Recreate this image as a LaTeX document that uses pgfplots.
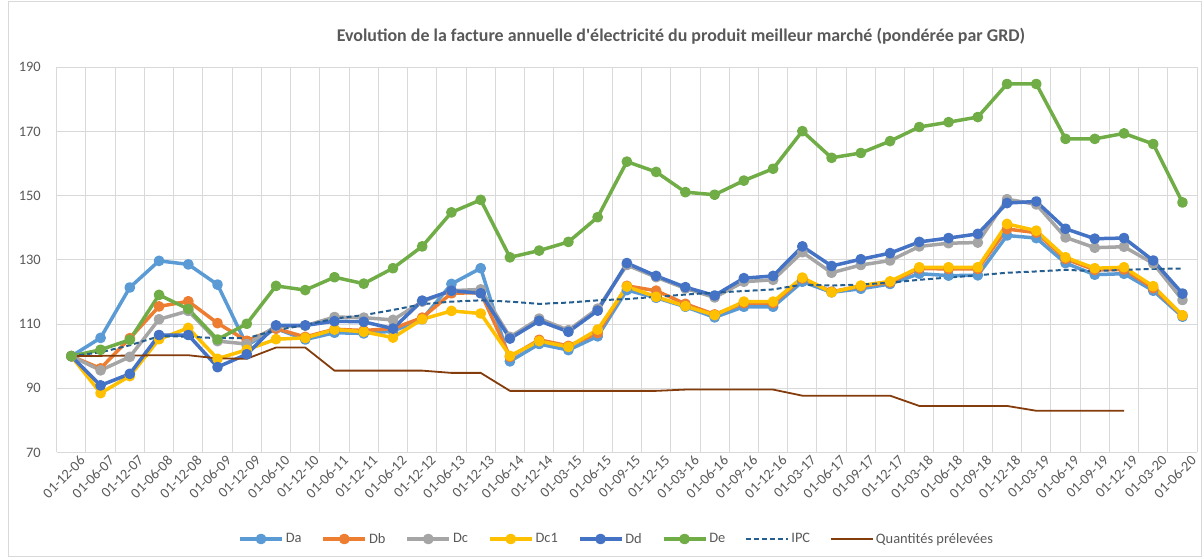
\documentclass[border=0pt]{standalone}
\usepackage{fontspec}
\setmainfont{Carlito}
\usepackage{pgfplots}
\usepackage{pgfplotstable}
\pgfplotsset{compat=1.18}
\definecolor{cDa}{HTML}{5B9BD5}
\definecolor{cDb}{HTML}{ED7D31}
\definecolor{cDc}{HTML}{A5A5A5}
\definecolor{cDcone}{HTML}{FFC000}
\definecolor{cDd}{HTML}{4472C4}
\definecolor{cDe}{HTML}{70AD47}
\definecolor{cIPC}{HTML}{255E91}
\definecolor{cQ}{HTML}{843C0C}
\definecolor{gridc}{HTML}{D9D9D9}
\definecolor{labc}{HTML}{595959}

\pgfplotstableread{
x Da Db Dc Dc1 Dd De IPC Q
0 100 100 100 100 100 100 100 100
1 105.7 96.2 95.6 88.5 90.9 102.0 101.2 100.1
2 121.4 105.6 99.8 93.8 94.5 105.1 103.4 100.2
3 129.7 115.5 111.5 105.3 106.6 119.1 106.2 100.3
4 128.6 117.1 114.1 108.8 106.6 114.7 106.1 100.3
5 122.3 110.3 104.7 99.2 96.6 105.2 105.6 99.3
6 103.4 104.8 103.8 102.0 100.6 110.1 105.6 99.2
7 108.6 108.6 109.3 105.3 109.6 121.9 108.1 102.7
8 105.2 106.0 109.5 105.7 109.6 120.6 109.7 102.7
9 107.3 108.4 112.2 108.3 110.9 124.6 111.7 95.5
10 107.1 108.0 112.0 107.6 110.7 122.6 112.8 95.5
11 107.8 108.6 111.3 105.8 108.6 127.4 114.4 95.5
12 111.5 112.0 117.0 111.5 117.3 134.2 116.2 95.5
13 122.5 119.6 120.4 114.1 120.4 144.8 117.0 94.8
14 127.4 119.8 120.8 113.3 119.6 148.7 117.4 94.8
15 98.4 99.8 106.0 100.1 105.5 130.8 117.0 89.2
16 103.8 105.1 111.7 104.7 111.0 132.9 116.3 89.2
17 101.9 103.2 108.1 102.9 107.6 135.6 116.7 89.2
18 106.2 107.2 114.8 108.3 114.2 143.3 117.4 89.2
19 120.6 121.9 128.4 121.7 129.0 160.6 117.8 89.2
20 118.2 120.4 124.6 118.5 125.0 157.4 118.5 89.2
21 115.4 116.3 121.1 115.6 121.5 151.1 119.2 89.6
22 112.1 113.0 118.3 112.8 118.9 150.3 119.8 89.6
23 115.4 116.5 123.2 117.0 124.3 154.7 120.3 89.6
24 115.4 116.5 123.8 117.0 125.0 158.4 120.8 89.6
25 123.2 124.2 132.4 124.5 134.2 170.1 122.3 87.7
26 119.9 120.1 126.0 119.9 128.1 161.8 122.0 87.7
27 121.0 121.8 128.4 122.0 130.2 163.3 122.3 87.7
28 122.5 123.0 129.8 123.3 132.1 167.0 122.9 87.7
29 125.7 127.3 134.2 127.7 135.6 171.4 123.8 84.5
30 125.1 127.2 135.2 127.7 136.8 172.9 124.5 84.5
31 125.2 127.2 135.4 127.7 138.1 174.5 125.2 84.5
32 137.6 139.6 148.9 141.2 147.7 184.8 126.0 84.5
33 136.8 138.5 147.3 139.1 148.2 184.8 126.4 83.0
34 129.0 130.3 137.0 130.8 139.7 167.7 126.9 83.0
35 125.4 126.9 133.8 127.4 136.6 167.7 126.5 83.0
36 125.7 127.0 134.1 127.7 136.8 169.4 126.9 83.0
37 120.4 121.2 128.9 121.8 129.8 166.1 127.2 nan
38 112.3 112.7 117.5 112.7 119.5 147.9 127.3 nan
}\data

\begin{document}
\begin{tikzpicture}[x=1bp,y=1bp]
\useasboundingbox (0,0) rectangle (1203,558);
\draw[gridc, line width=1bp] (8.5,1.5) rectangle (1201.5,556.5);
\node[font=\fontsize{18}{21}\selectfont\bfseries, text=labc, anchor=base] at (681,516)
  {Evolution de la facture annuelle d\textquotesingle électricité du produit meilleur marché (pondérée par GRD)};
\begin{axis}[
  at={(56.7bp,105.5bp)}, anchor=south west, scale only axis,
  width=1140.4bp, height=385.2bp,
  xmin=-0.5, xmax=38.5, ymin=70, ymax=190,
  ytick={70,90,...,190},
  xtick={0,...,38},
  xticklabels={01-12-06,01-06-07,01-12-07,01-06-08,01-12-08,01-06-09,01-12-09,01-06-10,01-12-10,01-06-11,01-12-11,01-06-12,01-12-12,01-06-13,01-12-13,01-06-14,01-12-14,01-03-15,01-06-15,01-09-15,01-12-15,01-03-16,01-06-16,01-09-16,01-12-16,01-03-17,01-06-17,01-09-17,01-12-17,01-03-18,01-06-18,01-09-18,01-12-18,01-03-19,01-06-19,01-09-19,01-12-19,01-03-20,01-06-20},
  minor xtick={-0.5,0.5,...,38.5},
  xminorgrids, ymajorgrids,
  major grid style={draw=gridc, line width=1bp},
  minor grid style={draw=gridc, line width=1bp},
  axis line style={draw=none},
  major tick length=0pt, minor tick length=0pt,
  tick label style={font=\fontsize{14.5}{17}\selectfont, text=labc},
  yticklabel style={anchor=east, inner sep=0pt, xshift=-15.7bp},
  xticklabel style={rotate=45, anchor=east, inner sep=0pt, xshift=4bp, yshift=-12bp},
  /pgf/number format/assume math mode=true,
  legend columns=8,
  legend style={at={(0.491,-0.2246)}, anchor=center, draw=none, fill=none,
    font=\fontsize{14.5}{17}\selectfont, text=labc,
    /tikz/every even column/.append style={column sep=18bp}},
  legend image code/.code={\draw[mark repeat=2,mark phase=2,#1] plot coordinates {(0bp,0bp) (21bp,0bp) (42bp,0bp)};},
  every axis plot/.append style={line join=round},
]
\addplot[cDa, line width=3.5bp, mark=*, mark size=3.6bp] table[x=x,y=Da]{\data};
\addlegendentry{Da}
\addplot[cDb, line width=3.5bp, mark=*, mark size=3.6bp] table[x=x,y=Db]{\data};
\addlegendentry{Db}
\addplot[cDc, line width=3.5bp, mark=*, mark size=3.6bp] table[x=x,y=Dc]{\data};
\addlegendentry{Dc}
\addplot[cDcone, line width=3.5bp, mark=*, mark size=3.6bp] table[x=x,y=Dc1]{\data};
\addlegendentry{Dc1}
\addplot[cDd, line width=3.5bp, mark=*, mark size=3.6bp] table[x=x,y=Dd]{\data};
\addlegendentry{Dd}
\addplot[cDe, line width=3.5bp, mark=*, mark size=3.6bp] table[x=x,y=De]{\data};
\addlegendentry{De}
\addplot[cIPC, line width=2bp, dash pattern=on 5bp off 3bp, no markers] table[x=x,y=IPC]{\data};
\addlegendentry{IPC}
\addplot[cQ, line width=1.8bp, no markers] table[x=x,y=Q]{\data};
\addlegendentry{Quantités prélevées}
\end{axis}
\end{tikzpicture}
\end{document}
